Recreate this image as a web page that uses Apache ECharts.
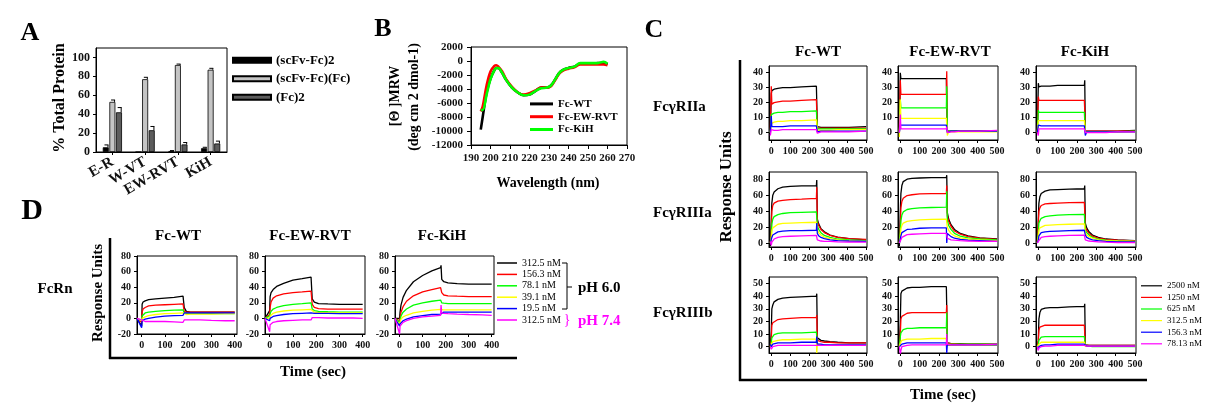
<!DOCTYPE html>
<html><head><meta charset="utf-8">
<script src="https://cdn.jsdelivr.net/npm/echarts@6/dist/echarts.min.js"></script>
<style>html,body{margin:0;padding:0;background:#fff}#c{width:1206px;height:412px}</style>
</head><body><div id="c"></div>
<script>
// ---------------- DATA ----------------
// Panel A
const aCategories = ['E-R', 'W-VT', 'EW-RVT', 'KiH'];
const aSeriesNames = ['(scFv-Fc)2', '(scFv-Fc)(Fc)', '(Fc)2'];
const aScFvFc2 = [5, 0, 1, 4];
const aScFvFcFc = [53, 77, 92, 87];
const aFc2 = [42, 23, 8, 9];
const aErrScFvFc2 = [2.5, 0, 0.5, 1];
const aErrScFvFcFc = [2, 2, 1, 1.5];
const aErrFc2 = [5, 4, 2, 2.5];
const aYTicks = [0, 20, 40, 60, 80, 100];

// Panel B
const bNames = ['Fc-WT', 'Fc-EW-RVT', 'Fc-KiH'];
const bWavelength = [195, 196, 198, 200, 202, 203, 204, 206, 208, 211, 214, 217, 220, 223, 226, 229, 231, 233, 235, 237, 240, 243, 246, 249, 252, 255, 258, 260];
const bFcWT    = [-9800, -8000, -4500, -2500, -1300, -1000, -1000, -1700, -2700, -3800, -4500, -4900, -4800, -4300, -3800, -3800, -3500, -2700, -1800, -1300, -1000, -800, -400, -400, -400, -300, -300, -500];
const bFcEWRVT = [-7200, -6500, -3500, -1500, -700, -600, -800, -1500, -2600, -3700, -4500, -4800, -4600, -4200, -3800, -3800, -3600, -2800, -1900, -1400, -1100, -900, -500, -500, -500, -500, -500, -600];
const bFcKiH   = [-7000, -7000, -4800, -2600, -1300, -1000, -1000, -1700, -2700, -3800, -4500, -4900, -4800, -4300, -3900, -3800, -3500, -2700, -1800, -1300, -1000, -800, -300, -300, -300, -300, -100, -400];
const bXTicks = [190, 200, 210, 220, 230, 240, 250, 260, 270];

// Panel C (time in s; each panel: 2500, 1250, 625, 312.5, 156.3, 78.13 nM)
const cConcLabels = ['2500 nM', '1250 nM', '625 nM', '312.5 nM', '156.3 nM', '78.13 nM'];
const cTime = [-5, 0, 3, 8, 15, 35, 60, 100, 160, 238, 240, 243, 250, 262, 280, 310, 350, 410, 500];
const cXTicks = [0, 100, 200, 300, 400, 500];
const cYTicksRIIa = [0, 10, 20, 30, 40];
const cYTicksRIIIa = [0, 20, 40, 60, 80];
const cYTicksRIIIb = [0, 10, 20, 30, 40, 50];

const cRIIa_WT = [
  [0, 26, 28, 28.5, 29, 29.5, 30, 30, 30.5, 31, 31, 4, 3.5, 3.5, 3.5, 3.5, 3.5, 3.5, 4],
  [0, 31, 19, 19.5, 20, 20.5, 21, 21, 21.5, 22, 22, 3, 3, 3, 3, 3, 3, 3, 3],
  [0, 12, 12.5, 13, 13, 13.5, 13.5, 14, 14, 14.5, 15, 2.5, 2.5, 2.5, 2.5, 2.5, 2.5, 2.5, 2.5],
  [0, 6, 6.5, 7, 7, 7.5, 7.5, 8, 8, 8.5, 8.5, 1.5, 1.5, 1.5, 1.5, 1.5, 2, 2, 2],
  [0, 11, 4, 4, 4, 4, 4, 4.5, 4.5, 4.5, 4.5, 0.5, 1, 1, 1, 1, 1, 1, 1],
  [-2, 2, 1.5, 1.5, 1.5, 1.5, 2, 2, 2, 2, 2, -0.5, 0.5, 0.5, 0.5, 0.5, 0.5, 0.5, 1]
];
const cRIIa_EW = [
  [0, 40, 36, 36, 36, 36, 36, 36, 36, 36, 36, 1, 1, 1, 1, 1, 1, 1, 1],
  [0, 35, 25.5, 25.5, 25.5, 25.5, 25.5, 25.5, 25.5, 25.5, 41, 1, 1, 1, 1, 1, 1, 1, 1],
  [0, 22, 16.5, 16.5, 16.5, 16.5, 16.5, 16.5, 16.5, 16.5, 31, 1, 1, 1, 1, 1, 1, 1, 1],
  [-3, 22, 9.5, 9.5, 9.5, 9.5, 9.5, 9.5, 9.5, 9.5, 9.5, -2, 0.5, 0.5, 0.5, 0.5, 0.5, 0.5, 0.5],
  [0, 5, 5, 5, 5, 5, 5, 5, 5, 5, 5, 0, 1, 1, 1, 1, 1, 1, 1],
  [0, 12, 2.5, 2.5, 2.5, 2.5, 2.5, 2.5, 2.5, 2.5, 4, 0, 0.5, 0.5, 0.5, 1, 1, 1, 1.5]
];
const cRIIa_KiH = [
  [0, 33, 30.5, 31, 31, 31, 31, 31.5, 31.5, 31.5, 35, 1, 1, 1, 1, 1, 1, 1, 1.5],
  [0, 24, 21.5, 21.5, 21.5, 21.5, 21.5, 21.5, 21.5, 21.5, 15, 1, 1, 1, 1, 1, 1, 1, 1],
  [0, 15, 13.5, 13.5, 13.5, 13.5, 13.5, 13.5, 13.5, 13.5, 13, 0.5, 0.5, 0.5, 0.5, 0.5, 0.5, 0.5, 1],
  [0, 8, 8, 8, 8, 8, 8, 8, 8, 8, 8, 0.5, 0.5, 0.5, 0.5, 0.5, 0.5, 0.5, 0.5],
  [0, 5, 4.5, 4.5, 4.5, 4.5, 4.5, 4.5, 4.5, 4.5, 4.5, -2, 0.5, 0.5, 0.5, 0.5, 0.5, 0.5, 0.5],
  [0, -2, 2.5, 2.5, 2.5, 2.5, 2.5, 2.5, 2.5, 2.5, 2.5, 0, 0, 0, 0, 0, 0, 0.5, 0.5]
];
const cRIIIa_WT = [
  [-4, 30, 50, 60, 64, 68, 70, 71, 71.5, 72, 79, 30, 24, 18, 14, 10, 7.5, 5.5, 4],
  [0, 12, 40, 47, 50, 52.5, 53.5, 54.5, 55, 56, 70, 27, 22, 17, 13, 9.5, 7, 5.5, 4.5],
  [0, 8, 24, 30, 33, 35.5, 37, 38, 38.5, 39, 39, 22, 17, 13, 9.5, 7, 5, 4, 3],
  [0, 5, 15, 19, 21.5, 23.5, 24.5, 25, 25.5, 26, 26, 17, 13, 10, 7.5, 5.5, 4, 3, 2],
  [0, 2, 7, 10, 12.5, 14, 15, 15.5, 15.5, 16, 25, 12, 9, 7, 5.5, 4, 3, 2.5, 2],
  [2, -3, 1, 3, 5, 7, 8, 8.5, 9, 9.5, 9.5, 4, 3, 2.5, 2, 2, 1.5, 1, 1]
];
const cRIIIa_EW = [
  [-4, 40, 62, 72, 77, 80, 81, 81.5, 82, 82, 85, 38, 30, 23, 17, 12, 9, 6.5, 5],
  [0, 20, 44, 52, 56, 59.5, 60.5, 61.5, 62, 62, 72, 34, 27, 21, 15, 11, 8, 6, 4.5],
  [0, 15, 28, 35, 39, 42, 43, 44, 44.5, 45, 65, 28, 22, 17, 12, 8.5, 6.5, 5, 4],
  [0, 8, 18, 22, 25, 27, 28, 29, 29.5, 30, 30, 20, 16, 12, 9, 6.5, 5, 4, 3],
  [0, 5, 9, 13, 15.5, 17, 17.5, 18.5, 19, 19, 0, 12, 10, 8, 6, 4.5, 3.5, 3, 2],
  [0, 2, 4, 7, 9, 10.5, 11, 11.5, 12, 12, 12, 6, 5, 4, 3.5, 3, 2.5, 2, 2]
];
const cRIIIa_KiH = [
  [0, 30, 50, 58, 62, 65, 66.5, 67, 67.5, 68, 72, 25, 19, 14, 10, 7, 5, 4, 3],
  [0, 25, 40, 44, 47, 49, 49.5, 50, 50.5, 51, 53, 20, 16, 12, 8.5, 6, 4.5, 3.5, 2.5],
  [0, 12, 25, 28, 31, 33, 34, 35, 35.5, 36, 36, 16, 13, 10, 7, 5, 3.5, 2.5, 2],
  [0, 8, 16, 19, 21, 22, 22.5, 23, 23.5, 24, 24, 13, 10, 8, 6, 4, 3, 2.5, 2],
  [0, 4, 9, 11.5, 13, 14, 14.5, 15, 15.5, 16, 16, 10, 7, 5.5, 4, 3, 2, 1.5, 1.5],
  [0, 0, 3, 5, 7, 8, 8.5, 9, 9.5, 10, 10, 4, 3, 2.5, 2, 1.5, 1, 0.5, 0.5]
];
const cRIIIb_WT = [
  [0, 12, 30, 33, 35.5, 37.5, 38.5, 39, 39.5, 40, 42, 7, 6, 5, 4.5, 4, 3.5, 3, 3],
  [0, 5, 17, 19, 20.5, 21.5, 22, 22.5, 23, 23, 25, 5, 5, 4, 3.5, 3.5, 3, 3, 3],
  [0, 3, 7, 8.5, 9.5, 10.5, 11, 11, 11, 11.5, 12, 2, 2, 1.5, 1.5, 1, 1, 1, 1],
  [0, 2, 3, 4, 4.5, 5, 5.5, 5.5, 6, 6, -5, 2, 1.5, 1.5, 1, 1, 1, 1, 1],
  [2, 0, 1.5, 2, 2.5, 3, 3, 3, 3.5, 3.5, 8, 2, 2, 2, 1.5, 1.5, 1.5, 1.5, 1.5],
  [0, -2, -1, 0, 0.5, 1, 1, 1, 1, 1, 1, 1, 1, 1, 1, 1, 1, 1, 1]
];
const cRIIIb_EW = [
  [0, 20, 42, 44, 45.5, 46.5, 47, 47, 47.5, 47.5, 47.5, 3, 2.5, 2.5, 2.5, 2.5, 2, 2, 2],
  [0, 10, 22, 24, 25.5, 26.5, 27, 27, 27, 27, 33, 3, 2.5, 2.5, 2.5, 2, 2, 2, 2],
  [0, 8, 11, 12.5, 13.5, 14.5, 14.5, 15, 15, 15, 27, 2, 2, 2, 2, 2, 2, 2, 2],
  [0, 3, 4, 5, 5.5, 6, 6, 6, 6.5, 6.5, 6.5, 1, 1, 1, 1, 1, 1, 1, 1],
  [0, 0, 1.5, 2, 2.5, 3, 3, 3, 3, 3, -5, 1.5, 1.5, 1.5, 1.5, 1.5, 1.5, 1.5, 1.5],
  [0, -6, -3, 0, 1, 1, 1.5, 1.5, 1.5, 1.5, 10, 2, 2, 1.5, 1.5, 1.5, 1.5, 1.5, 2]
];
const cRIIIb_KiH = [
  [0, 5, 22, 27, 29.5, 30.5, 31, 31, 31.5, 32, 34, 1.5, 1.5, 1, 1, 1, 1, 1, 1],
  [0, 5, 13, 15.5, 16.5, 17, 17, 17, 17, 17, 17, 1, 1, 1, 1, 1, 1, 1, 1],
  [0, 2, 5, 6.5, 7.5, 8, 8, 8, 8, 8, 8, 0.5, 0.5, 0.5, 0, 0, 0, 0, 0],
  [0, 1, 2, 3, 3.5, 3.5, 3.5, 3.5, 3.5, 3.5, 3.5, 0.5, 0.5, 0.5, 0.5, 0.5, 0.5, 0.5, 0.5],
  [0, -2, 0, 0.5, 1, 1.5, 1.5, 2, 2, 2, 2, 0.5, 0.5, 0.5, 0.5, 0.5, 0.5, 0.5, 0.5],
  [0, -3, -1, 0, 0, 0.5, 0.5, 1, 1, 1, 1, 0.5, 0.5, 0.5, 0.5, 0.5, 0.5, 0.5, 0.5]
];

// Panel D (FcRn): 312.5, 156.3, 78.1, 39.1, 19.5 nM at pH 6.0 and 312.5 nM at pH 7.4
const dLegendLabels = ['312.5 nM', '156.3 nM', '78.1 nM', '39.1 nM', '19.5 nM', '312.5 nM'];
const dTime = [-20, 0, 2, 6, 15, 30, 60, 100, 140, 178, 180, 183, 192, 210, 250, 300, 360, 400];
const dXTicks = [0, 100, 200, 300, 400];
const dYTicks = [-20, 0, 20, 40, 60, 80];
const dWT = [
  [0, -10, 18, 21, 22.5, 24, 25, 26, 27, 28.5, 29, 14, 9, 8, 8, 8, 8, 8],
  [0, -5, 8, 12, 14, 16, 17, 17.5, 18, 18.5, 18.5, 9, 8, 8, 8, 8, 8, 8],
  [0, -3, 3, 5, 7, 8, 9, 10, 10.5, 11, 11, 7, 6, 6, 6, 6, 6, 6],
  [0, -3, 0, 1, 2, 3.5, 5, 6, 6.5, 7, 7, 5, 5, 5.5, 5.5, 5.5, 6, 6],
  [0, -12, -3, -2, -1, 0, 1.5, 3, 3.5, 4, 4, 7, 7, 7, 7, 7, 7, 7],
  [0, -2, -4, -4, -4, -4, -4, -4, -4.5, -5, -5, -2, -2, -2, -2, -2.5, -3, -3]
];
const dEWRVT = [
  [0, 10, 28, 33, 37, 41, 45, 49, 51, 53, 55, 25, 21, 19, 18.5, 18, 18, 18],
  [0, 5, 14, 21, 26, 29, 31.5, 33, 34, 35, 35, 18, 14, 12.5, 12, 12, 12, 12],
  [0, 3, 6, 9, 12, 14, 16.5, 18, 19, 20, 20, 12, 10, 9, 8.5, 8, 8, 8],
  [0, 0, 3, 5, 6.5, 8, 9.5, 10.5, 11, 11.5, 11.5, 9, 8, 7.5, 7.5, 7, 7, 7],
  [0, -3, 0, 1, 2.5, 3.5, 5, 6, 6.5, 7, 7, 7, 6.5, 6.5, 6.5, 6, 6, 6],
  [0, -17, -8, -6, -5, -4, -3, -2.5, -2, -2, -2, 1, 1, 1, 0.5, 0.5, 0.5, 0]
];
const dKiH = [
  [0, 0, 8, 17, 27, 36, 47, 55, 61, 65, 68, 50, 47, 45.5, 44.5, 44, 44, 44],
  [0, -3, 0, 8, 15, 22, 29, 34, 37, 39.5, 41, 33, 30, 29, 28.5, 28, 28, 28],
  [0, -5, -3, 3, 8, 12, 17, 20, 22, 23.5, 24, 20, 19.5, 19, 19, 19, 19, 19],
  [0, -8, -5, -1, 2, 4, 7, 9, 10.5, 11.5, 12, 11, 11, 11, 11, 11, 11, 11],
  [0, -10, -7, -5, -3, -1, 2, 3.5, 5, 5.5, 6, 8, 8, 8, 8, 8, 8, 8],
  [0, -20, -10, -8, -5, -3, 0, 2, 3, 4, 17, 7, 6.5, 6, 5.5, 5, 4.5, 4]
];

// ---------------- CHART ----------------
const FONT = '"Liberation Serif", "Times New Roman", serif';
const curveColors = ['#000000', '#ff0000', '#00ff00', '#ffff00', '#0000ff', '#ff00ff'];
const aColors = ['#000000', '#c4c4c4', '#5c5c5c'];
const bColors = ['#000000', '#ff0000', '#00ff00'];

const chart = echarts.init(document.getElementById('c'), null, {renderer: 'canvas', width: 1206, height: 412});
const grid = [], xAxis = [], yAxis = [], series = [];

function addGrid(g) {
  grid.push(Object.assign({show: true, borderColor: '#000', borderWidth: 1, backgroundColor: 'transparent'}, g));
  return grid.length - 1;
}
function valAxis(gi, o) {
  const ax = {
    type: 'value', gridIndex: gi, min: o.min, max: o.max,
    splitLine: {show: false},
    axisLine: {show: true, onZero: false, lineStyle: {color: '#000', width: 1}},
    axisTick: {show: true, length: o.tickLen || 3, lineStyle: {color: '#000', width: 1}},
    axisLabel: {show: true, fontFamily: FONT, fontWeight: 'bold', fontSize: o.fontSize, color: '#111', margin: o.margin || 5,
      formatter: v => String(v)}
  };
  if (o.interval) ax.interval = o.interval;
  if (o.ticks) { ax.axisLabel.customValues = o.ticks; ax.axisTick.customValues = o.ticks; }
  return ax;
}
function lineSeries(name, ai, t, vals, color, width) {
  return {
    type: 'line', name, xAxisIndex: ai, yAxisIndex: ai,
    data: t.map((x, i) => [x, vals[i]]),
    showSymbol: false, symbol: 'none', smooth: false,
    color, itemStyle: {color}, lineStyle: {color, width},
    silent: true, animation: false
  };
}

// Panel A
const gA = addGrid({left: 96, top: 48, width: 131, height: 104});
xAxis.push({
  type: 'category', gridIndex: gA, data: aCategories,
  axisLine: {show: true, onZero: false, lineStyle: {color: '#000'}},
  axisTick: {show: true, alignWithLabel: true, length: 3, lineStyle: {color: '#000'}},
  axisLabel: {interval: 0, rotate: 30, margin: 9, hideOverlap: false, fontFamily: FONT, fontWeight: 'bold', fontSize: 15, color: '#111'}
});
yAxis.push(valAxis(gA, {min: 0, max: 110, ticks: aYTicks, fontSize: 12, margin: 6}));
const aValues = [aScFvFc2, aScFvFcFc, aFc2];
const aErrors = [aErrScFvFc2, aErrScFvFcFc, aErrFc2];
aValues.forEach((arr, i) => series.push({
  type: 'bar', name: aSeriesNames[i], xAxisIndex: 0, yAxisIndex: 0, data: arr,
  barWidth: 6, barGap: '10%',
  itemStyle: {color: aColors[i], borderColor: '#000', borderWidth: 0.8},
  silent: true, animation: false
}));
const errData = [];
aErrors.forEach((arr, s) => arr.forEach((e, c) => { if (e > 0) errData.push([c, aValues[s][c], e, s]); }));
series.push({
  type: 'custom', name: 'errA', xAxisIndex: 0, yAxisIndex: 0, data: errData, silent: true, animation: false,
  renderItem(params, api) {
    const c = api.value(0), v = api.value(1), e = api.value(2), s = api.value(3);
    const top = api.coord([c, v + e]), base = api.coord([c, v]);
    const cx = top[0] + (s - 1) * 6.6 + 2.2;
    return {type: 'group', children: [
      {type: 'line', shape: {x1: cx, y1: base[1], x2: cx, y2: top[1]}, style: {stroke: '#000', lineWidth: 1}},
      {type: 'line', shape: {x1: cx - 3.5, y1: top[1], x2: cx + 0.5, y2: top[1]}, style: {stroke: '#000', lineWidth: 1}}
    ]};
  }
});

// Panel B
const gB = addGrid({left: 471, top: 47, width: 156, height: 98});
xAxis.push(valAxis(gB, {min: 190, max: 270, ticks: bXTicks, fontSize: 11, margin: 8, tickLen: 4}));
yAxis.push(valAxis(gB, {min: -12000, max: 2000, interval: 2000, fontSize: 11, margin: 8, tickLen: 4}));
[bFcWT, bFcEWRVT, bFcKiH].forEach((arr, i) => {
  const s = lineSeries(bNames[i], 1, bWavelength, arr, bColors[i], 2.6);
  s.smooth = 0.35;
  series.push(s);
});

// Panel C
const cPanels = [
  [cRIIa_WT, cRIIa_EW, cRIIa_KiH],
  [cRIIIa_WT, cRIIIa_EW, cRIIIa_KiH],
  [cRIIIb_WT, cRIIIb_EW, cRIIIb_KiH]
];
const cCols = [{left: 769, width: 98}, {left: 898, width: 100}, {left: 1036, width: 100}];
const cRows = [
  {top: 66, height: 74, min: -5, max: 44.5, ticks: cYTicksRIIa},
  {top: 172, height: 75, min: -5, max: 89, ticks: cYTicksRIIIa},
  {top: 277, height: 76, min: -5, max: 55.2, ticks: cYTicksRIIIb}
];
cRows.forEach((row, r) => cCols.forEach((col, c) => {
  const gi = addGrid({left: col.left, top: row.top, width: col.width, height: row.height});
  xAxis.push(valAxis(gi, {min: -12, max: 505, ticks: cXTicks, fontSize: 10, margin: 6}));
  yAxis.push(valAxis(gi, {min: row.min, max: row.max, ticks: row.ticks, fontSize: 10, margin: 6}));
  cPanels[r][c].forEach((vals, k) => series.push(lineSeries(cConcLabels[k], gi, cTime, vals, curveColors[k], 1.3)));
}));

// Panel D
const dPanels = [dWT, dEWRVT, dKiH];
const dCols = [{left: 137, width: 100}, {left: 265, width: 100}, {left: 395, width: 99}];
dCols.forEach((col, c) => {
  const gi = addGrid({left: col.left, top: 256, width: col.width, height: 78});
  xAxis.push(valAxis(gi, {min: -20, max: 410, ticks: dXTicks, fontSize: 10, margin: 6}));
  yAxis.push(valAxis(gi, {min: -20, max: 80, ticks: dYTicks, fontSize: 10, margin: 6}));
  dPanels[c].forEach((vals, k) => series.push(lineSeries('D' + (k + 1), gi, dTime, vals, curveColors[k], 1.3)));
});

// Text helpers
const T = (text, x, y, size, o = {}) => ({
  type: 'text', x, y, rotation: o.rot || 0, silent: true, z: 100,
  style: {text, fill: o.color || '#000', font: (o.weight || 'bold') + ' ' + size + 'px ' + FONT,
    textAlign: o.align || 'center', textVerticalAlign: 'middle', align: o.align || 'center', verticalAlign: 'middle'}
});
const L = (x1, y1, x2, y2, w = 1, color = '#000') => ({type: 'line', silent: true, z: 100, shape: {x1, y1, x2, y2}, style: {stroke: color, lineWidth: w}});
const R = Math.PI / 2;

const graphic = [
  // letters
  T('A', 30, 33, 26), T('B', 383, 29, 26), T('C', 654, 30, 26), T('D', 32, 211, 30),
  // A
  T('% Total Protein', 60, 98, 16, {rot: R}),
  // B
  T('[Θ ]MRW', 395, 96, 14, {rot: R}),
  T('(deg cm 2 dmol-1)', 414, 97, 14, {rot: R}),
  T('Wavelength (nm)', 548, 183, 14),
  // C
  T('Fc-WT', 818, 52, 15), T('Fc-EW-RVT', 950, 52, 15), T('Fc-KiH', 1085, 52, 15),
  T('FcγRIIa', 653, 107, 15, {align: 'left'}),
  T('FcγRIIIa', 653, 213, 15, {align: 'left'}),
  T('FcγRIIIb', 653, 313, 15, {align: 'left'}),
  T('Response Units', 727, 187, 17, {rot: R}),
  T('Time (sec)', 943, 395, 15),
  L(740, 60, 740, 381, 2.5), L(739, 380, 1147, 380, 2.5),
  // D
  T('FcRn', 55, 289, 15),
  T('Response Units', 98, 293, 15, {rot: R}),
  T('Fc-WT', 178, 236, 15), T('Fc-EW-RVT', 310, 236, 15), T('Fc-KiH', 442, 236, 15),
  T('Time (sec)', 313, 372, 15),
  L(110, 238, 110, 359, 2.5), L(109, 358, 517, 358, 2.5),
  L(562, 263, 567, 263, 1), L(567, 263, 567, 309, 1), L(562, 309, 567, 309, 1), L(567, 287, 572, 287, 1),
  T('pH 6.0', 578, 288, 15, {align: 'left'}),
  T('}', 567, 320, 14, {color: '#ff00ff', weight: 'normal'}),
  T('pH 7.4', 578, 321, 15, {align: 'left', color: '#ff00ff'})
];

const legendBase = {orient: 'vertical', padding: 0, itemGap: 0, selectedMode: false, icon: 'rect'};
const legend = [
  Object.assign({}, legendBase, {left: 232, top: 51, itemWidth: 38, itemHeight: 5, data: aSeriesNames,
    textStyle: {fontFamily: FONT, fontWeight: 'bold', fontSize: 13, lineHeight: 18.5, color: '#000'}}),
  Object.assign({}, legendBase, {left: 530, top: 97.5, itemWidth: 23, itemHeight: 3, data: bNames,
    textStyle: {fontFamily: FONT, fontWeight: 'bold', fontSize: 11, lineHeight: 12.8, color: '#000'}}),
  Object.assign({}, legendBase, {left: 1141, top: 280, itemWidth: 21, itemHeight: 1.2, data: cConcLabels,
    textStyle: {fontFamily: FONT, fontSize: 9, lineHeight: 11.6, color: '#000'}}),
  Object.assign({}, legendBase, {left: 497, top: 257.3, itemWidth: 20, itemHeight: 1.5, data: ['D1', 'D2', 'D3', 'D4', 'D5', 'D6'],
    formatter: name => dLegendLabels[Number(name.slice(1)) - 1],
    textStyle: {fontFamily: FONT, fontSize: 10, lineHeight: 11.4, color: '#000'}})
];

chart.setOption({animation: false, grid, xAxis, yAxis, series, legend, graphic});
</script></body></html>
